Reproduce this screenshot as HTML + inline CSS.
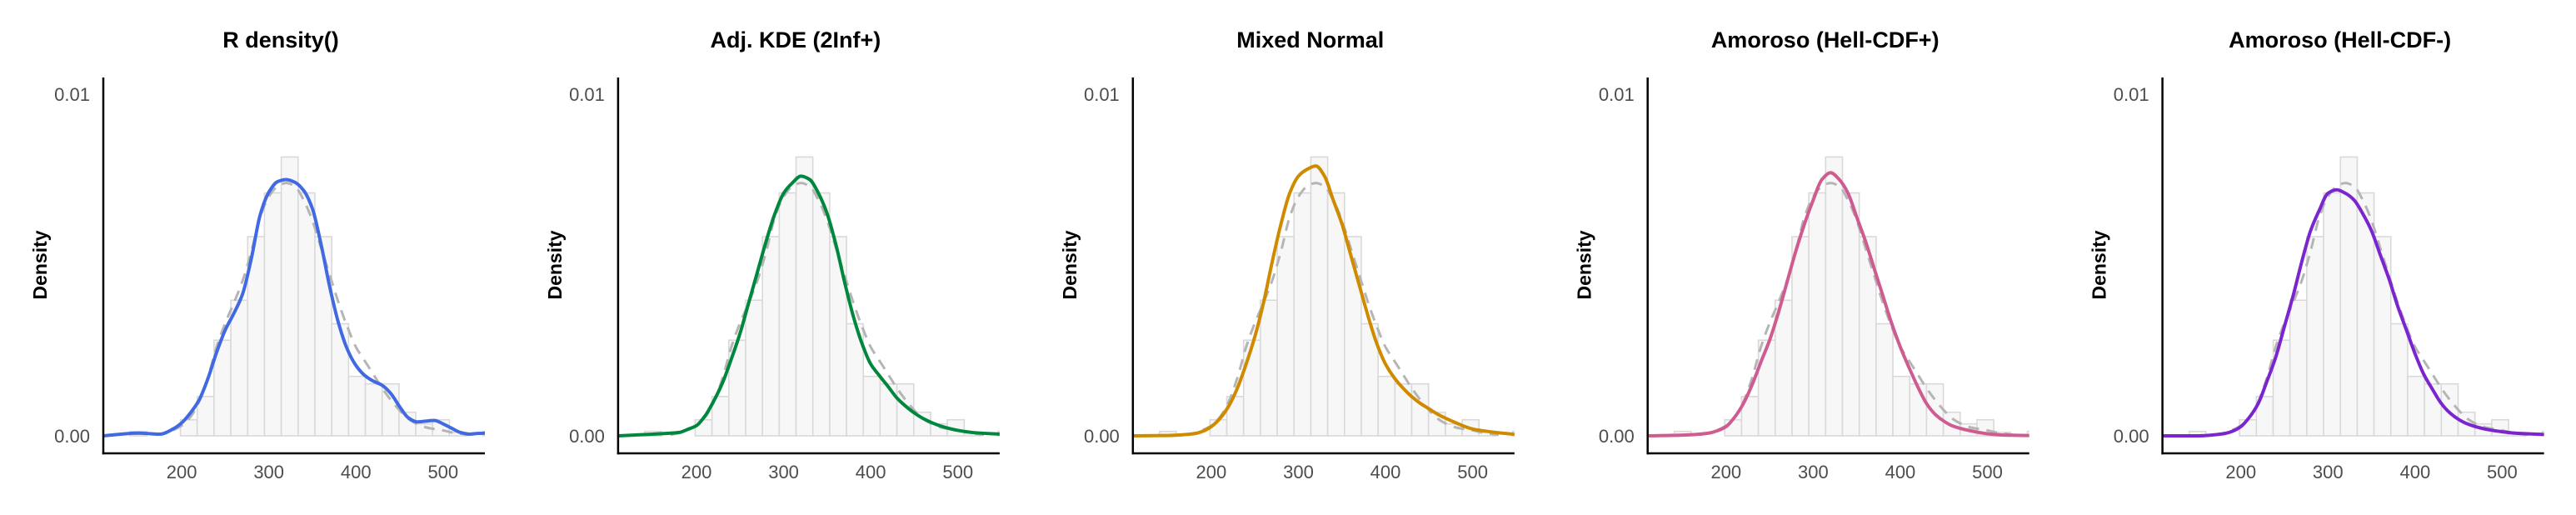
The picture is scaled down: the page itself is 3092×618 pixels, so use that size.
<!DOCTYPE html>
<html><head><meta charset="utf-8"><style>
html,body{margin:0;padding:0;background:#fff;}
svg{display:block;font-family:"Liberation Sans",Arial,sans-serif;}
</style></head><body>
<svg id="chart" width="3092" height="618" viewBox="0 0 3092 618" xmlns="http://www.w3.org/2000/svg"></svg>
<script>
const titles = ["R density()", "Adj. KDE (2Inf+)", "Mixed Normal", "Amoroso (Hell-CDF+)", "Amoroso (Hell-CDF-)"];
const colors = ["#4169E1", "#00873E", "#D08A00", "#CF5C91", "#7B25CF"];
const xTicks = [200, 300, 400, 500];
const yTicks = [0, 0.01];
const yTickLabels = ["0.00", "0.01"];
const binStart = 140.6;
const binWidth = 19.3;
const binDensity = [0.00013, 0, 0, 0.00047, 0.00115, 0.0028, 0.00397, 0.00583, 0.00711, 0.00816, 0.00711, 0.00583, 0.00328, 0.00174, 0.00152, 0.00152, 0.00069, 0.00035, 0.00047, 0.0001, 0, 0.00013];
const refX = [170,180,190,200,210,220,230,240,250,260,270,280,290,300,310,320,330,340,350,360,370,380,390,400,410,420,430,440,450,460,470,480,490,500,510,520,530];
const refY = [0.00003,0.00008,0.00017,0.0003,0.00055,0.001,0.0017,0.0026,0.0033,0.0039,0.00455,0.0054,0.0064,0.0070,0.0073,0.0074,0.0073,0.0069,0.0063,0.0055,0.0047,0.0039,0.0032,0.0026,0.0022,0.0018,0.0014,0.00105,0.00075,0.0005,0.00035,0.00025,0.0002,0.00016,0.0001,0.00006,0.00003];
const rX = [110,150,175,190,200,210,220,230,240,250,260,270,280,290,300,310,320,330,340,350,360,370,380,390,400,410,420,430,440,450,460,470,480,490,500,510,520,530,540,550];
const rY = [0,0.00008,0.00005,0.0002,0.00038,0.00067,0.00105,0.00167,0.00244,0.0031,0.00359,0.00416,0.0052,0.00646,0.00713,0.00744,0.0075,0.00742,0.00718,0.00665,0.0056,0.00435,0.0033,0.00254,0.00206,0.00177,0.0016,0.00148,0.00124,0.00086,0.00053,0.00041,0.00043,0.00045,0.00035,0.00022,0.0001,0.00005,0.00007,0.00008];
const gridX = [110,150,180,190,200,210,220,230,240,250,260,270,280,290,300,310,320,330,340,350,360,370,380,390,400,410,420,430,440,450,460,480,500,520,550];
const kdeY = [0,0.00005,0.0001,0.00019,0.0003,0.00059,0.00103,0.00156,0.00225,0.003,0.0039,0.0048,0.0057,0.0065,0.0071,0.0074,0.0076,0.0075,0.0071,0.0065,0.0056,0.0045,0.0035,0.0027,0.0021,0.00176,0.00144,0.00111,0.00087,0.00067,0.00051,0.00029,0.00016,0.00009,0.00005];
const mixY = [0,0.00001,0.00006,0.00013,0.00027,0.00051,0.00087,0.0014,0.0021,0.0029,0.0039,0.0051,0.0062,0.0071,0.0076,0.0078,0.0079,0.0076,0.0069,0.0062,0.0053,0.0044,0.0035,0.0027,0.0021,0.0017,0.0014,0.00115,0.00095,0.00079,0.00063,0.00039,0.0002,0.00012,0.00004];
const amoPY = [0,0.00002,0.00008,0.00015,0.00027,0.00055,0.00095,0.0015,0.00216,0.0028,0.0036,0.0045,0.0054,0.0062,0.0069,0.0075,0.0077,0.0075,0.0071,0.0064,0.0057,0.0049,0.0041,0.0033,0.0026,0.002,0.00144,0.00095,0.00063,0.00043,0.00029,0.00015,0.00006,0.00002,0.00001];
const amoMY = [0,0,0.00006,0.00013,0.00027,0.00055,0.00095,0.0016,0.0023,0.0032,0.0041,0.0051,0.006,0.0066,0.0071,0.0072,0.0071,0.0069,0.0065,0.006,0.0053,0.0046,0.0038,0.0031,0.0024,0.0018,0.00136,0.00095,0.00067,0.00048,0.00035,0.0002,0.00012,0.00007,0.00004];

const seriesX = [rX, gridX, gridX, gridX, gridX];
const seriesY = [rY, kdeY, mixY, amoPY, amoMY];

const NS = "http://www.w3.org/2000/svg";
const svg = document.getElementById("chart");
const panelStep = 617.9, axisLeft0 = 124, plotW = 458, plotTop = 93, axisBottom = 544;
const xMin = 110, xMax = 548;
const y0px = 523, yPerUnit = 41000;

function mk(tag, attrs, parent) {
  const e = document.createElementNS(NS, tag);
  for (const k in attrs) e.setAttribute(k, attrs[k]);
  (parent || svg).appendChild(e);
  return e;
}
function smoothPath(xs, ys, sx, sy) {
  const px = xs.map(sx), py = ys.map(sy);
  const n = px.length;
  const s = [];
  for (let i = 0; i < n - 1; i++) s.push((py[i + 1] - py[i]) / (px[i + 1] - px[i]));
  const m = [];
  for (let i = 0; i < n; i++) {
    if (i === 0) m.push(s[0]);
    else if (i === n - 1) m.push(s[n - 2]);
    else if (s[i - 1] * s[i] <= 0) m.push(0);
    else {
      const h0 = px[i] - px[i - 1], h1 = px[i + 1] - px[i];
      const w1 = 2 * h1 + h0, w2 = h1 + 2 * h0;
      m.push((w1 + w2) / (w1 / s[i - 1] + w2 / s[i]));
    }
  }
  let d = "M" + px[0].toFixed(2) + "," + py[0].toFixed(2);
  for (let i = 0; i < n - 1; i++) {
    const dx = (px[i + 1] - px[i]) / 3;
    d += " C" + (px[i] + dx).toFixed(2) + "," + (py[i] + m[i] * dx).toFixed(2) + " " +
      (px[i + 1] - dx).toFixed(2) + "," + (py[i + 1] - m[i + 1] * dx).toFixed(2) + " " +
      px[i + 1].toFixed(2) + "," + py[i + 1].toFixed(2);
  }
  return d;
}

const defs = mk("defs", {});
for (let p = 0; p < titles.length; p++) {
  const L = axisLeft0 + p * panelStep;
  const sx = v => L + (v - xMin) / (xMax - xMin) * plotW;
  const sy = v => y0px - v * yPerUnit;

  const cp = mk("clipPath", { id: "clip" + p }, defs);
  mk("rect", { x: L, y: plotTop, width: plotW, height: axisBottom - plotTop }, cp);

  const g = mk("g", {});
  
  

  const t = mk("text", { x: L + plotW / 2 - 16, y: 57, "text-anchor": "middle", "font-size": 27, "font-weight": "bold", fill: "#000" }, g);
  t.textContent = titles[p];
  
  

  const yl = mk("text", { x: 0, y: 0, transform: "translate(" + (L - 68) + ",318) rotate(-90)", "text-anchor": "middle", "font-size": 23, "font-weight": "bold", fill: "#000" }, g);
  yl.textContent = "Density";
  
  

  const bars = mk("g", { "clip-path": "url(#clip" + p + ")" }, g);
  
  
  for (let i = 0; i < binDensity.length; i++) {
    if (binDensity[i] <= 0) continue;
    const x0 = binStart + i * binWidth;
    const r = mk("rect", { x: sx(x0), y: sy(binDensity[i]), width: sx(x0 + binWidth) - sx(x0), height: sy(0) - sy(binDensity[i]), fill: "#f7f7f7", stroke: "#d9d9d9", "stroke-width": 1.6 }, bars);
    
    
  }

  const ref = mk("path", { d: smoothPath(refX, refY, sx, sy), fill: "none", stroke: "#b5b5b5", "stroke-width": 3, "stroke-dasharray": "13 9", "clip-path": "url(#clip" + p + ")" }, g);
  
  

  const cur = mk("path", { d: smoothPath(seriesX[p], seriesY[p], sx, sy), fill: "none", stroke: colors[p], "stroke-width": 4, "stroke-linejoin": "round", "clip-path": "url(#clip" + p + ")" }, g);
  
  

  const ya = mk("line", { x1: L, y1: plotTop, x2: L, y2: axisBottom + 1.2, stroke: "#000", "stroke-width": 2.5 }, g);
  
  
  const xa = mk("line", { x1: L - 1.2, y1: axisBottom, x2: L + plotW, y2: axisBottom, stroke: "#000", "stroke-width": 2.5 }, g);
  
  

  for (let i = 0; i < yTicks.length; i++) {
    const tl = mk("text", { x: L - 16, y: sy(yTicks[i]) + 8, "text-anchor": "end", "font-size": 22, fill: "#4d4d4d" }, g);
    tl.textContent = yTickLabels[i];
    
    
  }
  for (let i = 0; i < xTicks.length; i++) {
    const tl = mk("text", { x: sx(xTicks[i]), y: 574, "text-anchor": "middle", "font-size": 22, fill: "#4d4d4d" }, g);
    tl.textContent = String(xTicks[i]);
    
    
  }
}
</script>
</body></html>
